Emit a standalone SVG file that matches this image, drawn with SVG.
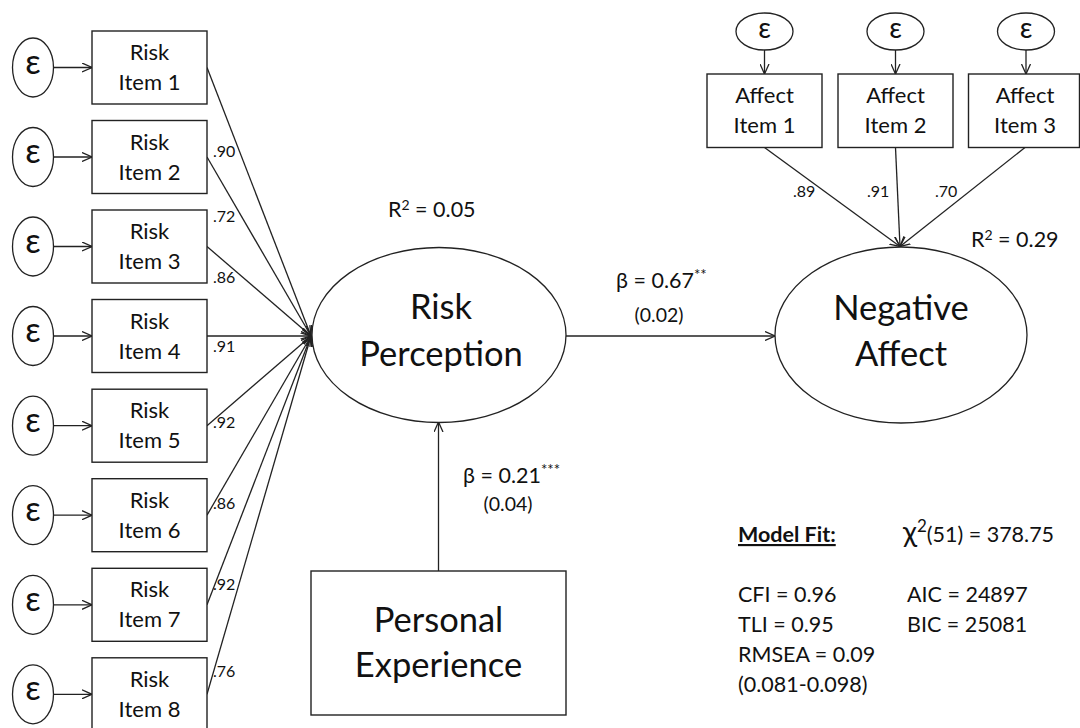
<svg xmlns="http://www.w3.org/2000/svg" width="1080" height="728" viewBox="0 0 1080 728">
  <defs>
    <marker id="arr" viewBox="0 0 10 10" refX="10" refY="5" markerWidth="10" markerHeight="10" markerUnits="userSpaceOnUse" orient="auto">
      <path d="M0,0.5 L10,5 L0,9.5" fill="none" stroke="#222" stroke-width="1.3"/>
    </marker>
    <style>
      text { font-family: Lato, "Open Sans", "Liberation Sans", sans-serif; fill: #111; }
      .box { fill: #fff; stroke: #222; stroke-width: 1.4; }
      .ell { fill: #fff; stroke: #222; stroke-width: 1.3; }
      .edge { stroke: #222; stroke-width: 1.3; fill: none; marker-end: url(#arr); }
      .item { font-size: 22px; text-anchor: middle; }
      .eps { font-size: 34px; text-anchor: middle; }
      .epsT { font-size: 28px; text-anchor: middle; }
      .load { font-size: 16px; }
      .big { font-size: 34.5px; text-anchor: middle; }
      .lbl { font-size: 21.5px; }
      .se { font-size: 19.5px; text-anchor: middle; }
      .sup { font-size: 15px; }
      .sq { font-size: 14px; }
    </style>
  </defs>

  <rect width="1080" height="728" fill="#fff"/>

  <!-- connectors -->
  <g id="connectors">
    <!-- error terms into risk items -->
    <line class="edge" x1="53.5" y1="67.5" x2="92" y2="67.5"/>
    <line class="edge" x1="53.5" y1="157" x2="92" y2="157"/>
    <line class="edge" x1="53.5" y1="246.5" x2="92" y2="246.5"/>
    <line class="edge" x1="53.5" y1="336" x2="92" y2="336"/>
    <line class="edge" x1="53.5" y1="425.7" x2="92" y2="425.7"/>
    <line class="edge" x1="53.5" y1="515.2" x2="92" y2="515.2"/>
    <line class="edge" x1="53.5" y1="604.8" x2="92" y2="604.8"/>
    <line class="edge" x1="53.5" y1="694.3" x2="92" y2="694.3"/>
    <!-- risk items into Risk Perception -->
    <line class="edge" x1="207" y1="67.5" x2="311" y2="336"/>
    <line class="edge" x1="207" y1="157" x2="311" y2="336"/>
    <line class="edge" x1="207" y1="246.5" x2="311" y2="336"/>
    <line class="edge" x1="207" y1="336" x2="311" y2="336"/>
    <line class="edge" x1="207" y1="425.7" x2="311" y2="336"/>
    <line class="edge" x1="207" y1="515.2" x2="311" y2="336"/>
    <line class="edge" x1="207" y1="604.8" x2="311" y2="336"/>
    <line class="edge" x1="207" y1="694.3" x2="311" y2="336"/>
    <!-- error terms into affect items -->
    <line class="edge" x1="764.5" y1="50" x2="764.5" y2="74"/>
    <line class="edge" x1="895.5" y1="50" x2="895.5" y2="74"/>
    <line class="edge" x1="1026" y1="50" x2="1026" y2="74"/>
    <!-- affect items into Negative Affect -->
    <line class="edge" x1="764.5" y1="147.5" x2="900" y2="246.5"/>
    <line class="edge" x1="895.5" y1="147.5" x2="900" y2="246.5"/>
    <line class="edge" x1="1025" y1="147.5" x2="900" y2="246.5"/>
    <!-- structural paths -->
    <line class="edge" x1="566" y1="336" x2="775" y2="336"/>
    <line class="edge" x1="438.5" y1="571" x2="438.5" y2="422"/>
  </g>

  <!-- risk item error terms -->
  <g id="risk-errors">
    <ellipse class="ell" cx="33" cy="67.5" rx="20.5" ry="29.5"/><text class="eps" x="33" y="73.5">ε</text>
    <ellipse class="ell" cx="33" cy="157" rx="20.5" ry="29.5"/><text class="eps" x="33" y="163">ε</text>
    <ellipse class="ell" cx="33" cy="246.5" rx="20.5" ry="29.5"/><text class="eps" x="33" y="252.5">ε</text>
    <ellipse class="ell" cx="33" cy="336" rx="20.5" ry="29.5"/><text class="eps" x="33" y="342">ε</text>
    <ellipse class="ell" cx="33" cy="425.7" rx="20.5" ry="29.5"/><text class="eps" x="33" y="431.7">ε</text>
    <ellipse class="ell" cx="33" cy="515.2" rx="20.5" ry="29.5"/><text class="eps" x="33" y="521.2">ε</text>
    <ellipse class="ell" cx="33" cy="604.8" rx="20.5" ry="29.5"/><text class="eps" x="33" y="610.8">ε</text>
    <ellipse class="ell" cx="33" cy="694.3" rx="20.5" ry="29.5"/><text class="eps" x="33" y="700.3">ε</text>
  </g>

  <!-- risk items -->
  <g id="risk-item-1"><rect class="box" x="92" y="31" width="115" height="73"/><text class="item" x="149.5" y="60">Risk</text><text class="item" x="149.5" y="90">Item 1</text></g>
  <g id="risk-item-2"><rect class="box" x="92" y="120.5" width="115" height="73"/><text class="item" x="149.5" y="149.5">Risk</text><text class="item" x="149.5" y="179.5">Item 2</text></g>
  <g id="risk-item-3"><rect class="box" x="92" y="210" width="115" height="73"/><text class="item" x="149.5" y="239">Risk</text><text class="item" x="149.5" y="269">Item 3</text></g>
  <g id="risk-item-4"><rect class="box" x="92" y="299.5" width="115" height="73"/><text class="item" x="149.5" y="328.5">Risk</text><text class="item" x="149.5" y="358.5">Item 4</text></g>
  <g id="risk-item-5"><rect class="box" x="92" y="389.2" width="115" height="73"/><text class="item" x="149.5" y="418.2">Risk</text><text class="item" x="149.5" y="448.2">Item 5</text></g>
  <g id="risk-item-6"><rect class="box" x="92" y="478.7" width="115" height="73"/><text class="item" x="149.5" y="507.7">Risk</text><text class="item" x="149.5" y="537.7">Item 6</text></g>
  <g id="risk-item-7"><rect class="box" x="92" y="568.3" width="115" height="73"/><text class="item" x="149.5" y="597.3">Risk</text><text class="item" x="149.5" y="627.3">Item 7</text></g>
  <g id="risk-item-8"><rect class="box" x="92" y="657.8" width="115" height="73"/><text class="item" x="149.5" y="686.8">Risk</text><text class="item" x="149.5" y="716.8">Item 8</text></g>

  <!-- factor loadings, risk items -->
  <g id="risk-loadings">
    <text class="load" x="213" y="157">.90</text>
    <text class="load" x="213" y="222">.72</text>
    <text class="load" x="213" y="283">.86</text>
    <text class="load" x="213" y="352">.91</text>
    <text class="load" x="213" y="428">.92</text>
    <text class="load" x="213" y="509">.86</text>
    <text class="load" x="213" y="590">.92</text>
    <text class="load" x="213" y="677">.76</text>
  </g>

  <!-- affect item error terms -->
  <g id="affect-errors">
    <ellipse class="ell" cx="764.5" cy="31.5" rx="28.5" ry="18.5"/><text class="epsT" x="764.5" y="38">ε</text>
    <ellipse class="ell" cx="895.5" cy="31.5" rx="28.5" ry="18.5"/><text class="epsT" x="895.5" y="38">ε</text>
    <ellipse class="ell" cx="1026" cy="31.5" rx="28.5" ry="18.5"/><text class="epsT" x="1026" y="38">ε</text>
  </g>

  <!-- affect items -->
  <g id="affect-item-1"><rect class="box" x="707" y="74" width="115" height="73.5"/><text class="item" x="764.5" y="103">Affect</text><text class="item" x="764.5" y="133">Item 1</text></g>
  <g id="affect-item-2"><rect class="box" x="838" y="74" width="115" height="73.5"/><text class="item" x="895.5" y="103">Affect</text><text class="item" x="895.5" y="133">Item 2</text></g>
  <g id="affect-item-3"><rect class="box" x="968.5" y="74" width="111" height="73.5"/><text class="item" x="1025" y="103">Affect</text><text class="item" x="1025" y="133">Item 3</text></g>

  <!-- factor loadings, affect items -->
  <g id="affect-loadings">
    <text class="load" x="793" y="197">.89</text>
    <text class="load" x="867" y="197">.91</text>
    <text class="load" x="935" y="197">.70</text>
  </g>

  <!-- latent variables -->
  <g id="risk-perception">
    <ellipse class="ell" cx="439" cy="335" rx="127" ry="87.5"/>
    <text class="big" x="441" y="319">Risk</text>
    <text class="big" x="441" y="366">Perception</text>
  </g>
  <g id="negative-affect">
    <ellipse class="ell" cx="901" cy="335" rx="126" ry="88"/>
    <text class="big" x="901" y="320">Negative</text>
    <text class="big" x="901" y="366">Affect</text>
  </g>

  <!-- observed predictor -->
  <g id="personal-experience">
    <rect class="box" x="311" y="571" width="255" height="144"/>
    <text class="big" x="438.5" y="632">Personal</text>
    <text class="big" x="438.5" y="677">Experience</text>
  </g>

  <!-- path estimates and explained variance -->
  <g id="estimates">
    <text class="lbl" x="388" y="217">R<tspan class="sq" dy="-7">2</tspan><tspan dy="7"> = 0.05</tspan></text>
    <text class="lbl" x="971" y="247">R<tspan class="sq" dy="-7">2</tspan><tspan dy="7"> = 0.29</tspan></text>
    <text class="lbl" x="616" y="288">β = 0.67<tspan class="sup" dy="-8">**</tspan></text>
    <text class="se" x="659" y="322">(0.02)</text>
    <text class="lbl" x="463" y="483">β = 0.21<tspan class="sup" dy="-8">***</tspan></text>
    <text class="se" x="508" y="511">(0.04)</text>
  </g>

  <!-- model fit summary -->
  <g id="model-fit">
    <text class="lbl" x="738" y="542" font-weight="bold" text-decoration="underline">Model Fit:</text>
    <text class="lbl" x="903" y="542"><tspan font-size="29">χ</tspan><tspan font-size="17" dy="-10">2</tspan><tspan dy="10">(51) = 378.75</tspan></text>
    <text class="lbl" x="738" y="602">CFI = 0.96</text>
    <text class="lbl" x="907" y="602">AIC = 24897</text>
    <text class="lbl" x="738" y="632">TLI = 0.95</text>
    <text class="lbl" x="907" y="632">BIC = 25081</text>
    <text class="lbl" x="738" y="662">RMSEA = 0.09</text>
    <text class="lbl" x="738" y="692">(0.081-0.098)</text>
  </g>
</svg>
